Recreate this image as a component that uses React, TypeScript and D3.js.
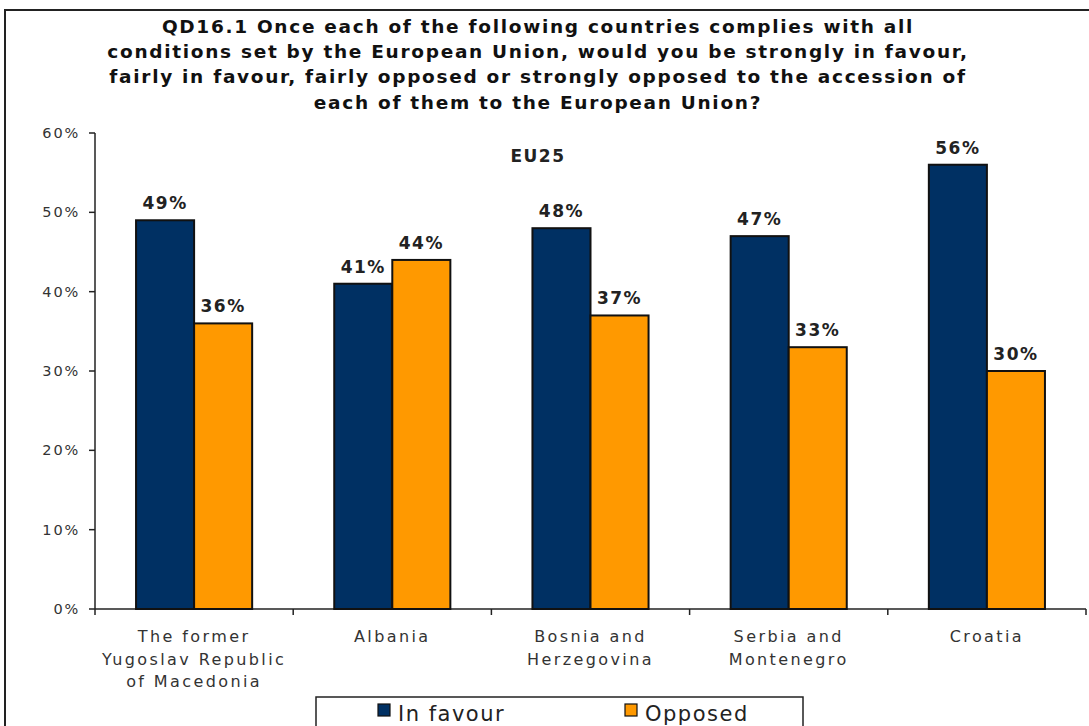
import * as d3 from 'd3';

const countries = [
  ['The former', 'Yugoslav Republic', 'of Macedonia'],
  ['Albania'],
  ['Bosnia and', 'Herzegovina'],
  ['Serbia and', 'Montenegro'],
  ['Croatia'],
];
const inFavour = [49, 41, 48, 47, 56];
const opposed = [36, 44, 37, 33, 30];
const yTicks = [0, 10, 20, 30, 40, 50, 60];
const seriesNames = ['In favour', 'Opposed'];
const seriesColors = ['#003063', '#FF9900'];
const titleLines = [
  'QD16.1 Once each of the following countries complies with all',
  'conditions set by the European Union, would you be strongly in favour,',
  'fairly in favour, fairly opposed or strongly opposed to the accession of',
  'each of them to the European Union?',
];

const W = 1089;
const H = 726;
const font = '"DejaVu Sans", Verdana, sans-serif';

export default function App() {
  const keys = countries.map((_, i) => String(i));
  const x = d3.scaleBand().domain(keys).range([95, 1086]).paddingInner(0).paddingOuter(0);
  const xi = d3.scaleBand().domain(['0', '1']).range([0, x.bandwidth()]).paddingInner(0).paddingOuter(0.707);
  const y = d3.scaleLinear().domain([0, 60]).range([609, 133]);
  const series = [inFavour, opposed];

  return (
    <svg width={W} height={H} style={{ position: 'absolute', left: 0, top: 0, background: '#fff' }}>
      {/* outer frame */}
      <rect x={5} y={10} width={W + 10} height={H + 10} fill="none" stroke="#222" strokeWidth={2} />

      {titleLines.map((t, i) => (
        <text key={i} x={538} y={33 + i * 25.2} textAnchor="middle" fontFamily={font} fontWeight="bold"
          fontSize={18.5} fill="#111" letterSpacing={1.7}>{t}</text>
      ))}

      <text x={538} y={162} textAnchor="middle" fontFamily={font} fontWeight="bold" fontSize={17}
        fill="#222" letterSpacing={1.5}>EU25</text>

      {/* y axis */}
      <line x1={95} x2={95} y1={y(60)} y2={y(0)} stroke="#222" strokeWidth={1.5} />
      {yTicks.map(t => (
        <g key={t}>
          <line x1={89} x2={95} y1={y(t)} y2={y(t)} stroke="#222" strokeWidth={1.5} />
          <text x={80} y={y(t) + 5} textAnchor="end" fontFamily={font} fontSize={14.5} fill="#333"
            letterSpacing={1.8}>{t}%</text>
        </g>
      ))}

      {/* x axis */}
      <line x1={95} x2={1086} y1={y(0)} y2={y(0)} stroke="#222" strokeWidth={1.5} />
      {[...keys.map(k => x(k)!), 1086].map((v, i) => (
        <line key={i} x1={v} x2={v} y1={y(0)} y2={y(0) + 6} stroke="#222" strokeWidth={1.5} />
      ))}

      {/* bars */}
      {keys.map((k, ci) => (
        <g key={k} transform={`translate(${x(k)},0)`}>
          {series.map((s, si) => {
            const bx = xi(String(si))!;
            return (
              <g key={si}>
                <rect x={bx} y={y(s[ci])} width={xi.bandwidth()} height={y(0) - y(s[ci])}
                  fill={seriesColors[si]} stroke="#111" strokeWidth={2} />
                <text x={bx + xi.bandwidth() / 2} y={y(s[ci]) - 11} textAnchor="middle" fontFamily={font}
                  fontWeight="bold" fontSize={17} fill="#222" letterSpacing={1.5}>{s[ci]}%</text>
              </g>
            );
          })}
          {countries[ci].map((line, li) => (
            <text key={li} x={x.bandwidth() / 2} y={642 + li * 22.5} textAnchor="middle" fontFamily={font}
              fontSize={16} fill="#333" letterSpacing={2.4}>{line}</text>
          ))}
        </g>
      ))}

      {/* legend */}
      <rect x={316} y={697} width={487} height={40} fill="#fff" stroke="#222" strokeWidth={1.5} />
      {seriesNames.map((n, i) => {
        const lx = i === 0 ? 378 : 625;
        return (
          <g key={n}>
            <rect x={lx} y={704} width={12} height={12} fill={seriesColors[i]} stroke="#111" strokeWidth={1.2} />
            <text x={lx + 20} y={721} fontFamily={font} fontSize={21} fill="#222" letterSpacing={1.5}>{n}</text>
          </g>
        );
      })}
    </svg>
  );
}
